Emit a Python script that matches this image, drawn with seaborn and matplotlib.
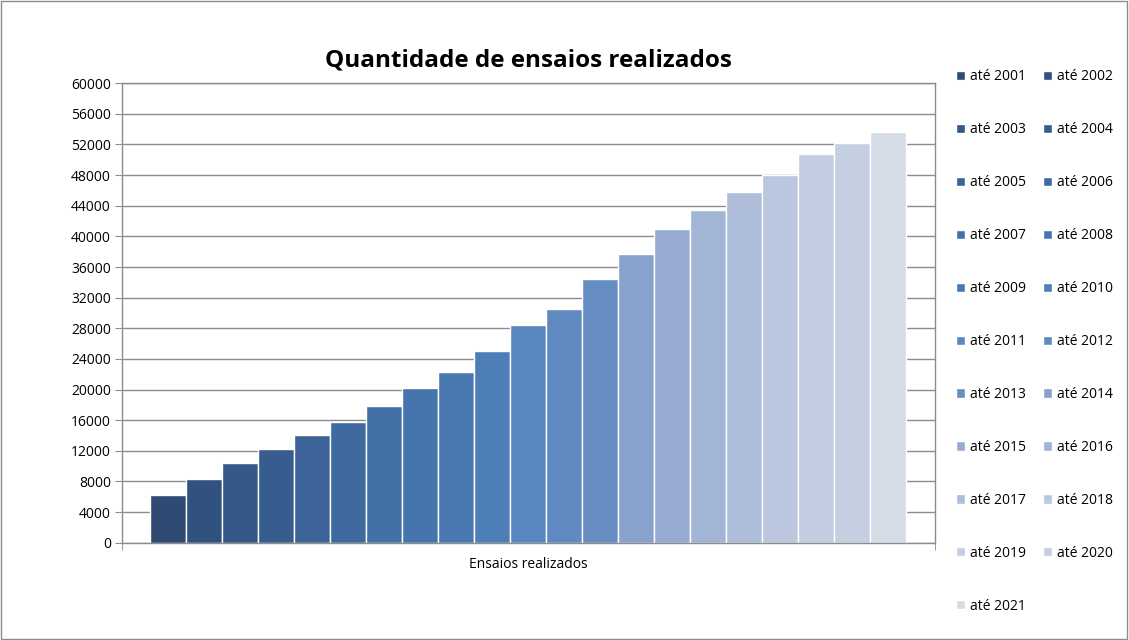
import pandas as pd
import matplotlib.pyplot as plt
import seaborn as sns
from matplotlib.patches import Rectangle
from matplotlib.ticker import MultipleLocator, FixedLocator

OUTPUT = "out.png"

categoria = "Ensaios realizados"
periodos = [f"até {ano}" for ano in range(2001, 2022)]
ensaios = [6200, 8350, 10350, 12300, 14000, 15750, 17900, 20150, 22350, 25000,
           28450, 30500, 34400, 37650, 41000, 43500, 45850, 47950, 50700, 52250, 53600]
cores = ["#2F4B74", "#31527F", "#345887", "#375D8E", "#3C6499", "#3F6A9F", "#4370A7",
         "#4675AE", "#4A79B2", "#4E7EB8", "#5B87C0", "#5F89C0", "#678EC2", "#88A2CB",
         "#97ABD2", "#A3B5D5", "#AEBDDA", "#BAC7DF", "#C3CDE1", "#C5CFE2", "#D6DCE8"]


def main():
    df = pd.DataFrame({"grupo": categoria, "periodo": periodos, "ensaios": ensaios})

    sns.set_style("white")
    plt.rcParams["font.family"] = ["Open Sans", "DejaVu Sans"]
    plt.rcParams["text.color"] = "black"
    plt.rcParams["xtick.color"] = "black"
    plt.rcParams["ytick.color"] = "black"

    fig = plt.figure(figsize=(11.29, 6.4), dpi=100)
    ax = fig.add_axes([0.108, 0.152, 0.720, 0.718])

    sns.barplot(data=df, x="grupo", y="ensaios", hue="periodo", hue_order=periodos,
                palette=cores, width=0.93, edgecolor="white", linewidth=1,
                saturation=1, ax=ax, legend=True)

    ax.set_ylim(0, 60000)
    ax.set_xlim(-0.5, 0.5)
    ax.yaxis.set_major_locator(MultipleLocator(4000))
    ax.grid(axis="y", color="#8C8C8C", linewidth=1)
    ax.set_axisbelow(True)
    for s in ax.spines.values():
        s.set_color("#8C8C8C")
        s.set_linewidth(1)

    ax.tick_params(axis="y", direction="out", length=5, color="#8C8C8C",
                   labelcolor="black", labelsize=10, left=True, pad=3)
    ax.tick_params(axis="x", which="major", length=0, labelcolor="black",
                   labelsize=10, pad=10)
    ax.xaxis.set_minor_locator(FixedLocator([-0.5, 0.5]))
    ax.tick_params(axis="x", which="minor", direction="out", length=5,
                   color="#8C8C8C", bottom=True)
    ax.set_xlabel("")
    ax.set_ylabel("")

    ax.set_title("Quantidade de ensaios realizados", fontsize=17.5,
                 fontweight="bold", color="black", pad=12)

    # legenda preenchida por linha, como no original
    handles, labels = ax.get_legend_handles_labels()
    handles = handles[0::2] + handles[1::2]
    labels = labels[0::2] + labels[1::2]
    ax.legend_.remove()
    fig.legend(handles, labels, ncol=2, loc="upper left",
               bbox_to_anchor=(0.836, 0.911), frameon=False, fontsize=10,
               handlelength=0.65, handleheight=0.65, handletextpad=0.35,
               columnspacing=1.2, labelspacing=2.73)

    fig.patches.append(Rectangle((0.001, 0.001), 0.997, 0.997,
                                 transform=fig.transFigure, fill=False,
                                 edgecolor="#8C8C8C", linewidth=1))

    fig.savefig(OUTPUT, dpi=100)
    plt.close(fig)


if __name__ == "__main__":
    main()
